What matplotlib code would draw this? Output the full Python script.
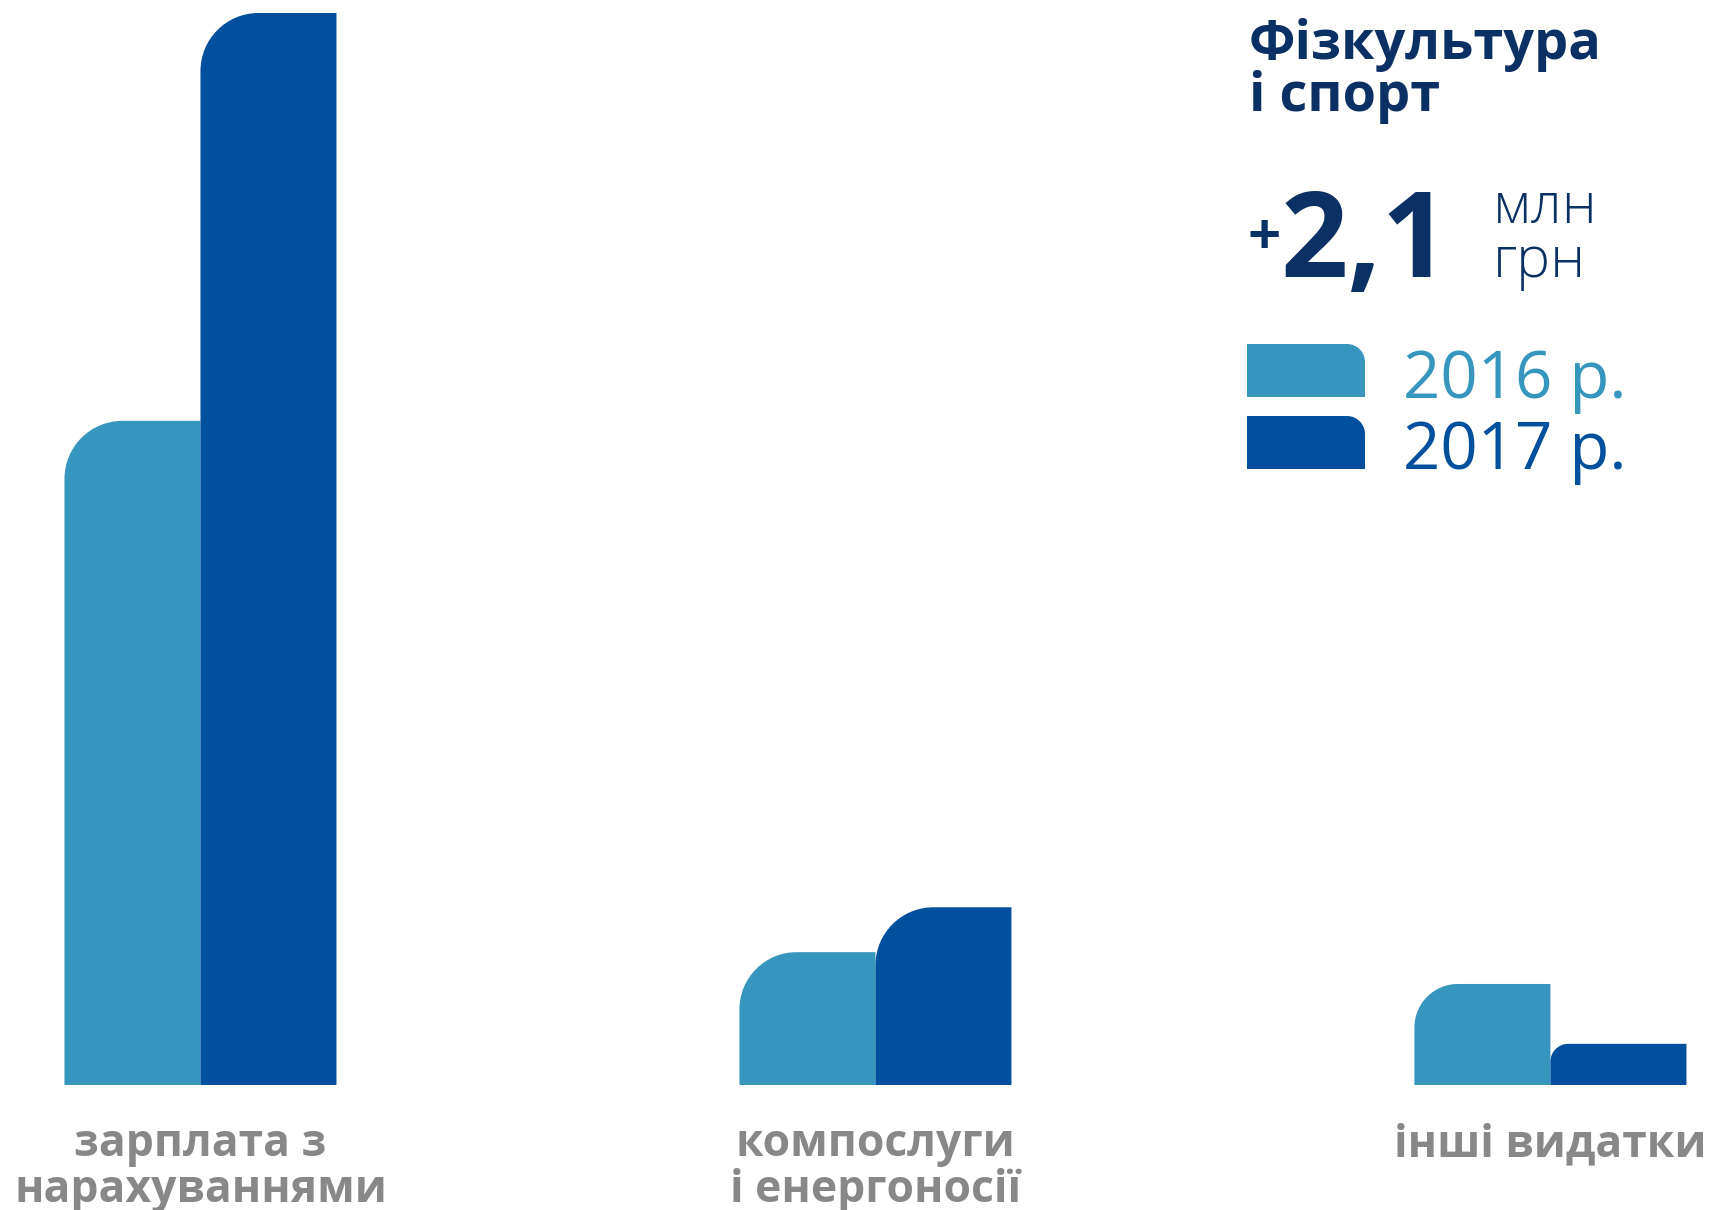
import numpy as np
from matplotlib import pyplot as plt
from matplotlib.path import Path
from matplotlib.patches import PathPatch

# Data (млн грн)
categories = ['зарплата з\nнарахуваннями', 'комп' + 'ослуги\nі енергоносії', 'інші видатки']
years = ['2016 р.', '2017 р.']
values_2016 = [3.55, 0.71, 0.54]
values_2017 = [5.73, 0.95, 0.22]
colors = ['#3696bd', '#00509e']
title_color = '#0b3064'
label_color = '#888888'

W, H = 1732, 1210
fig = plt.figure(figsize=(W / 100, H / 100), dpi=100)
fig.patch.set_facecolor('white')

# axes placed so that the baseline sits near the bottom labels
ax_bottom = (H - 1085) / H
ax_top = (H - 13) / H
ax = fig.add_axes([0, ax_bottom, 1, ax_top - ax_bottom])
x = np.arange(len(categories))
width = 0.2015
ax.set_xlim(-0.297, 2.269)
ax.set_ylim(0, max(values_2017))
ax.axis('off')


def round_top_left(ax, rect, color):
    # replace a plain bar with one whose top-left corner is rounded
    x0, y0 = rect.get_x(), rect.get_y()
    w, h = rect.get_width(), rect.get_height()
    trans = ax.transData
    p0 = trans.transform((x0, y0))
    p1 = trans.transform((x0 + w, y0 + h))
    hp = p1[1] - p0[1]
    r = min(58, 0.43 * hp)
    sx = w / (p1[0] - p0[0])
    sy = h / hp
    rx, ry = r * sx, r * sy
    k = 0.5523
    verts = [
        (x0, y0), (x0 + w, y0), (x0 + w, y0 + h), (x0 + rx, y0 + h),
        (x0 + rx - k * rx, y0 + h), (x0, y0 + h - ry + k * ry), (x0, y0 + h - ry),
        (x0, y0),
    ]
    codes = [Path.MOVETO, Path.LINETO, Path.LINETO, Path.LINETO,
             Path.CURVE4, Path.CURVE4, Path.CURVE4, Path.CLOSEPOLY]
    rect.set_visible(False)
    ax.add_patch(PathPatch(Path(verts, codes), facecolor=color, edgecolor='none'))


bars16 = ax.bar(x - width / 2, values_2016, width, color=colors[0])
bars17 = ax.bar(x + width / 2, values_2017, width, color=colors[1])
for rect in bars16:
    round_top_left(ax, rect, colors[0])
for rect in bars17:
    round_top_left(ax, rect, colors[1])

# overlay axes in pixel units for the text block and legend
lax = fig.add_axes([0, 0, 1, 1])
lax.set_xlim(0, W)
lax.set_ylim(H, 0)
lax.axis('off')

sans = ['Open Sans', 'DejaVu Sans']

# category labels under the groups
for xi, cat in zip(x, categories):
    px = ax.transData.transform((xi, 0))[0]
    for j, line in enumerate(cat.split('\n')):
        lax.text(px, 1156 + j * 46, line, ha='center', va='baseline', fontsize=32,
                 fontweight='bold', color=label_color, family=sans)

# title block
lax.text(1249, 59, 'Фізкультура', ha='left', va='baseline', fontsize=39,
         fontweight='bold', color=title_color, family=sans)
lax.text(1249, 111, 'і спорт', ha='left', va='baseline', fontsize=39,
         fontweight='bold', color=title_color, family=sans)
lax.text(1248, 254, '+', ha='left', va='baseline', fontsize=42,
         fontweight='bold', color=title_color, family=sans)
lax.text(1280, 277, '2,1', ha='left', va='baseline', fontsize=85,
         fontweight='bold', color=title_color, family=sans)
lax.text(1493, 223, 'млн', ha='left', va='baseline', fontsize=41,
         fontweight='light', color=title_color, family=sans)
lax.text(1493, 277, 'грн', ha='left', va='baseline', fontsize=41,
         fontweight='light', color=title_color, family=sans)

# legend with rounded swatches
for i, (yr, c) in enumerate(zip(years, colors)):
    top = 344 + i * 72
    sw = lax.bar(1247, 53, 118, bottom=top, align='edge', color=c)[0]
    xs, ys = sw.get_x(), sw.get_y()
    rr = 18
    verts = [(xs, ys + 53), (xs, ys), (xs + 118 - rr, ys),
             (xs + 118 - rr * 0.45, ys), (xs + 118, ys + rr * 0.45), (xs + 118, ys + rr),
             (xs + 118, ys + 53), (xs, ys + 53)]
    codes = [Path.MOVETO, Path.LINETO, Path.LINETO, Path.CURVE4, Path.CURVE4,
             Path.CURVE4, Path.LINETO, Path.CLOSEPOLY]
    sw.set_visible(False)
    lax.add_patch(PathPatch(Path(verts, codes), facecolor=c, edgecolor='none'))
    lax.text(1403, 398 + i * 71, yr, ha='left', va='baseline', fontsize=47, color=c,
             family=sans)

plt.savefig('out.png', dpi=100, facecolor='white')
plt.close()
